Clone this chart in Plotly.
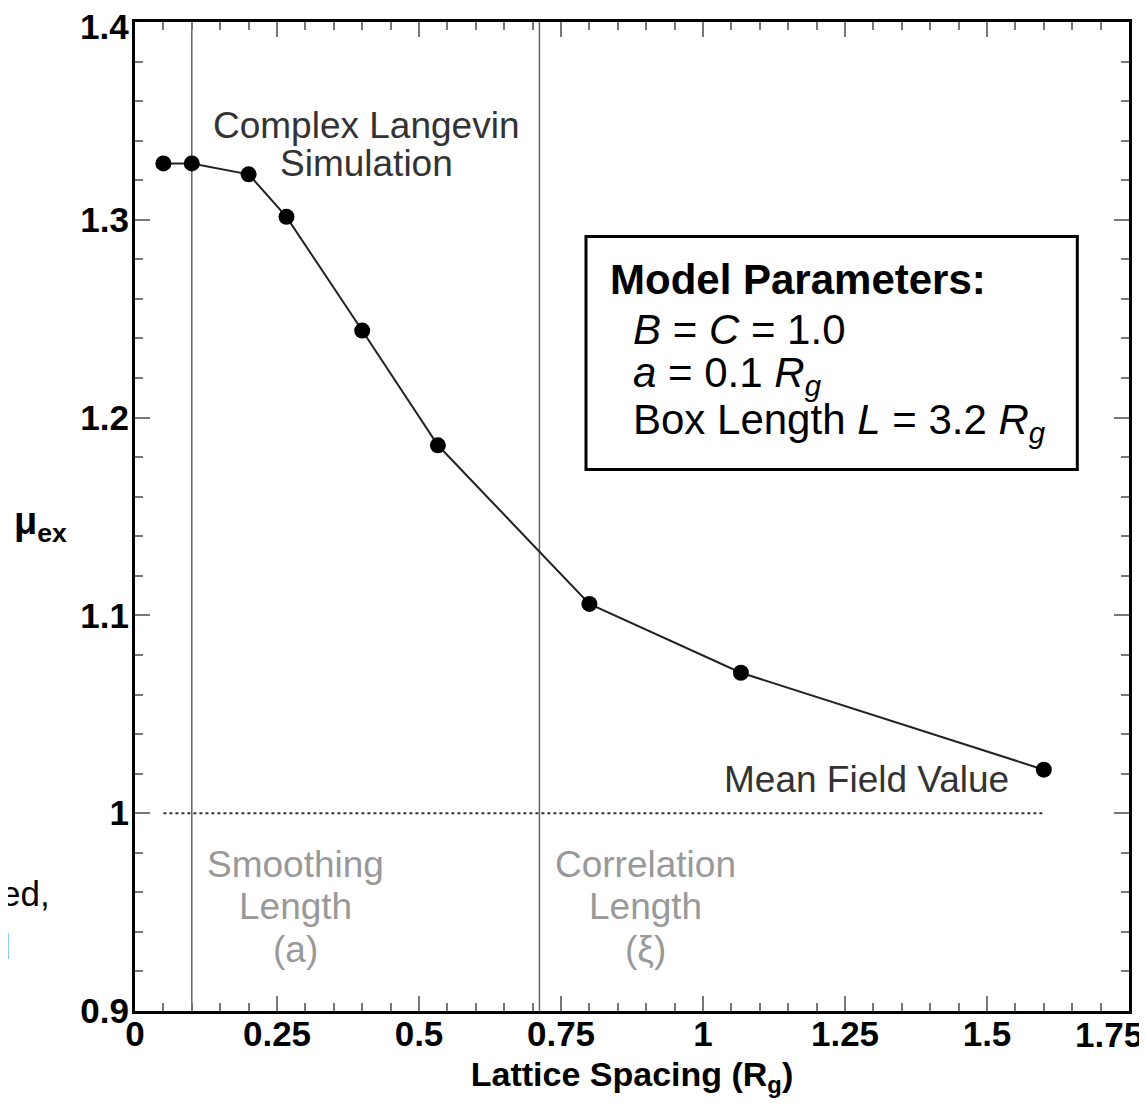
import plotly.graph_objects as go

# Data
lattice_spacing = [0.05, 0.1, 0.2, 0.2667, 0.4, 0.5333, 0.8, 1.0667, 1.6]
mu_ex = [1.3285, 1.3285, 1.323, 1.3015, 1.244, 1.186, 1.1058, 1.071, 1.022]
mean_field_x = [0.05, 1.6]
mean_field_y = [1.0, 1.0]
smoothing_length = 0.1
correlation_length = 0.712
x_ticks = [0, 0.25, 0.5, 0.75, 1, 1.25, 1.5, 1.75]
x_ticklabels = ["0", "0.25", "0.5", "0.75", "1", "1.25", "1.5", "1.75"]
y_ticks = [0.9, 1.0, 1.1, 1.2, 1.3, 1.4]
y_ticklabels = ["0.9", "1", "1.1", "1.2", "1.3", "1.4"]

FONT = "Liberation Sans, Arial, sans-serif"
TICKFONT = dict(size=35, color="black", family=FONT, weight="bold")

fig = go.Figure()

# vertical reference lines (smoothing & correlation length)
for xv in (smoothing_length, correlation_length):
    fig.add_shape(type="line", xref="x", yref="paper", x0=xv, x1=xv, y0=0, y1=1,
                  line=dict(color="#666666", width=1.5), layer="below")

fig.add_trace(go.Scatter(x=mean_field_x, y=mean_field_y, mode="lines",
                         line=dict(color="#333333", width=2, dash="dot"),
                         showlegend=False, hoverinfo="skip"))

fig.add_trace(go.Scatter(x=lattice_spacing, y=mu_ex, mode="lines+markers",
                         line=dict(color="#222222", width=2),
                         marker=dict(color="black", size=16),
                         showlegend=False))

# model parameters box
fig.add_shape(type="rect", xref="x", yref="y", x0=0.794, x1=1.659, y0=1.1737, y1=1.2915,
              line=dict(color="black", width=3), fillcolor="white")

ann = []


def stacked(lines, x, y_top, dy, font):
    for i, t in enumerate(lines):
        ann.append(dict(x=x, y=y_top - i * dy, text=t, font=font))


stacked(["Complex Langevin", "Simulation"], 0.407, 1.3475, 0.0192,
        dict(size=37, color="#333333", family=FONT))
ann.append(dict(x=1.287, y=1.017, text="Mean Field Value",
                font=dict(size=37, color="#333333", family=FONT)))
stacked(["Smoothing", "Length", "(a)"], 0.283, 0.9743, 0.0217,
        dict(size=37, color="#999999", family=FONT))
stacked(["Correlation", "Length", "(ξ)"], 0.898, 0.9743, 0.0217,
        dict(size=37, color="#999999", family=FONT))
ann.append(dict(x=0.832, y=1.270, text="<b>Model Parameters:</b>", xanchor="left",
                font=dict(size=42, color="black", family=FONT)))
ann.append(dict(x=0.873, y=1.2447, text="<i>B</i> = <i>C</i> = 1.0", xanchor="left",
                font=dict(size=42, color="black", family=FONT)))
ann.append(dict(x=0.873, y=1.2215, text="<i>a</i> = 0.1 <i>R<sub>g</sub></i>", xanchor="left",
                font=dict(size=42, color="black", family=FONT)))
ann.append(dict(x=0.873, y=1.1975, text="Box Length <i>L</i> = 3.2 <i>R<sub>g</sub></i>", xanchor="left",
                font=dict(size=42, color="black", family=FONT)))
# y-axis label
ann.append(dict(xref="paper", x=-0.095, y=1.146, text="<b>μ<sub>ex</sub></b>",
                font=dict(size=38, color="black", family=FONT)))
# clipped fragment text at left edge
ann.append(dict(xref="paper", x=-0.0835, y=0.9595, text="ed,", xanchor="right",
                font=dict(size=35, color="black", family=FONT)))
ann.append(dict(xref="paper", x=-0.1237, y=0.9325, text="d", xanchor="right",
                font=dict(size=35, color="black", family=FONT)))
# end tick labels shifted inward to fit, as in the original
ann.append(dict(xref="paper", x=0, y=y_ticks[-1], text=y_ticklabels[-1], xanchor="right",
                xshift=-4, yshift=-4, font=TICKFONT))
ann.append(dict(x=x_ticks[-1], yref="paper", y=0, text=x_ticklabels[-1], xanchor="center",
                yanchor="top", xshift=-20, yshift=-2, font=TICKFONT))

for a in ann:
    a.setdefault("xref", "x")
    a.setdefault("yref", "y")
    a.setdefault("showarrow", False)
    a.setdefault("yanchor", "middle")
    a.setdefault("xanchor", "center")
    fig.add_annotation(**a)

axis_common = dict(showline=True, linewidth=3, linecolor="black", mirror="allticks",
                   ticks="inside", ticklen=15, tickwidth=1.5, tickcolor="#777777",
                   showgrid=False, zeroline=False, tickfont=TICKFONT)

fig.update_xaxes(range=[0, 1.75], tickvals=x_ticks, ticktext=x_ticklabels[:-1] + [""],
                 minor=dict(dtick=0.05, ticks="inside", ticklen=8, tickcolor="#777777", tickwidth=1.5),
                 title=dict(text="<b>Lattice Spacing (R<sub>g</sub>)</b>", standoff=11,
                            font=dict(size=34, color="black", family=FONT)),
                 ticklabelstandoff=-10,
                 **axis_common)
fig.update_yaxes(range=[0.9, 1.4], tickvals=y_ticks, ticktext=y_ticklabels[:-1] + [""],
                 minor=dict(dtick=0.02, ticks="inside", ticklen=8, tickcolor="#777777", tickwidth=1.5),
                 ticklabelstandoff=-4,
                 **axis_common)

fig.update_layout(width=1139, height=1100, plot_bgcolor="white", paper_bgcolor="white",
                  margin=dict(l=127, r=18, t=11, b=97), showlegend=False,
                  font=dict(family=FONT))

fig.write_html("out.html")
